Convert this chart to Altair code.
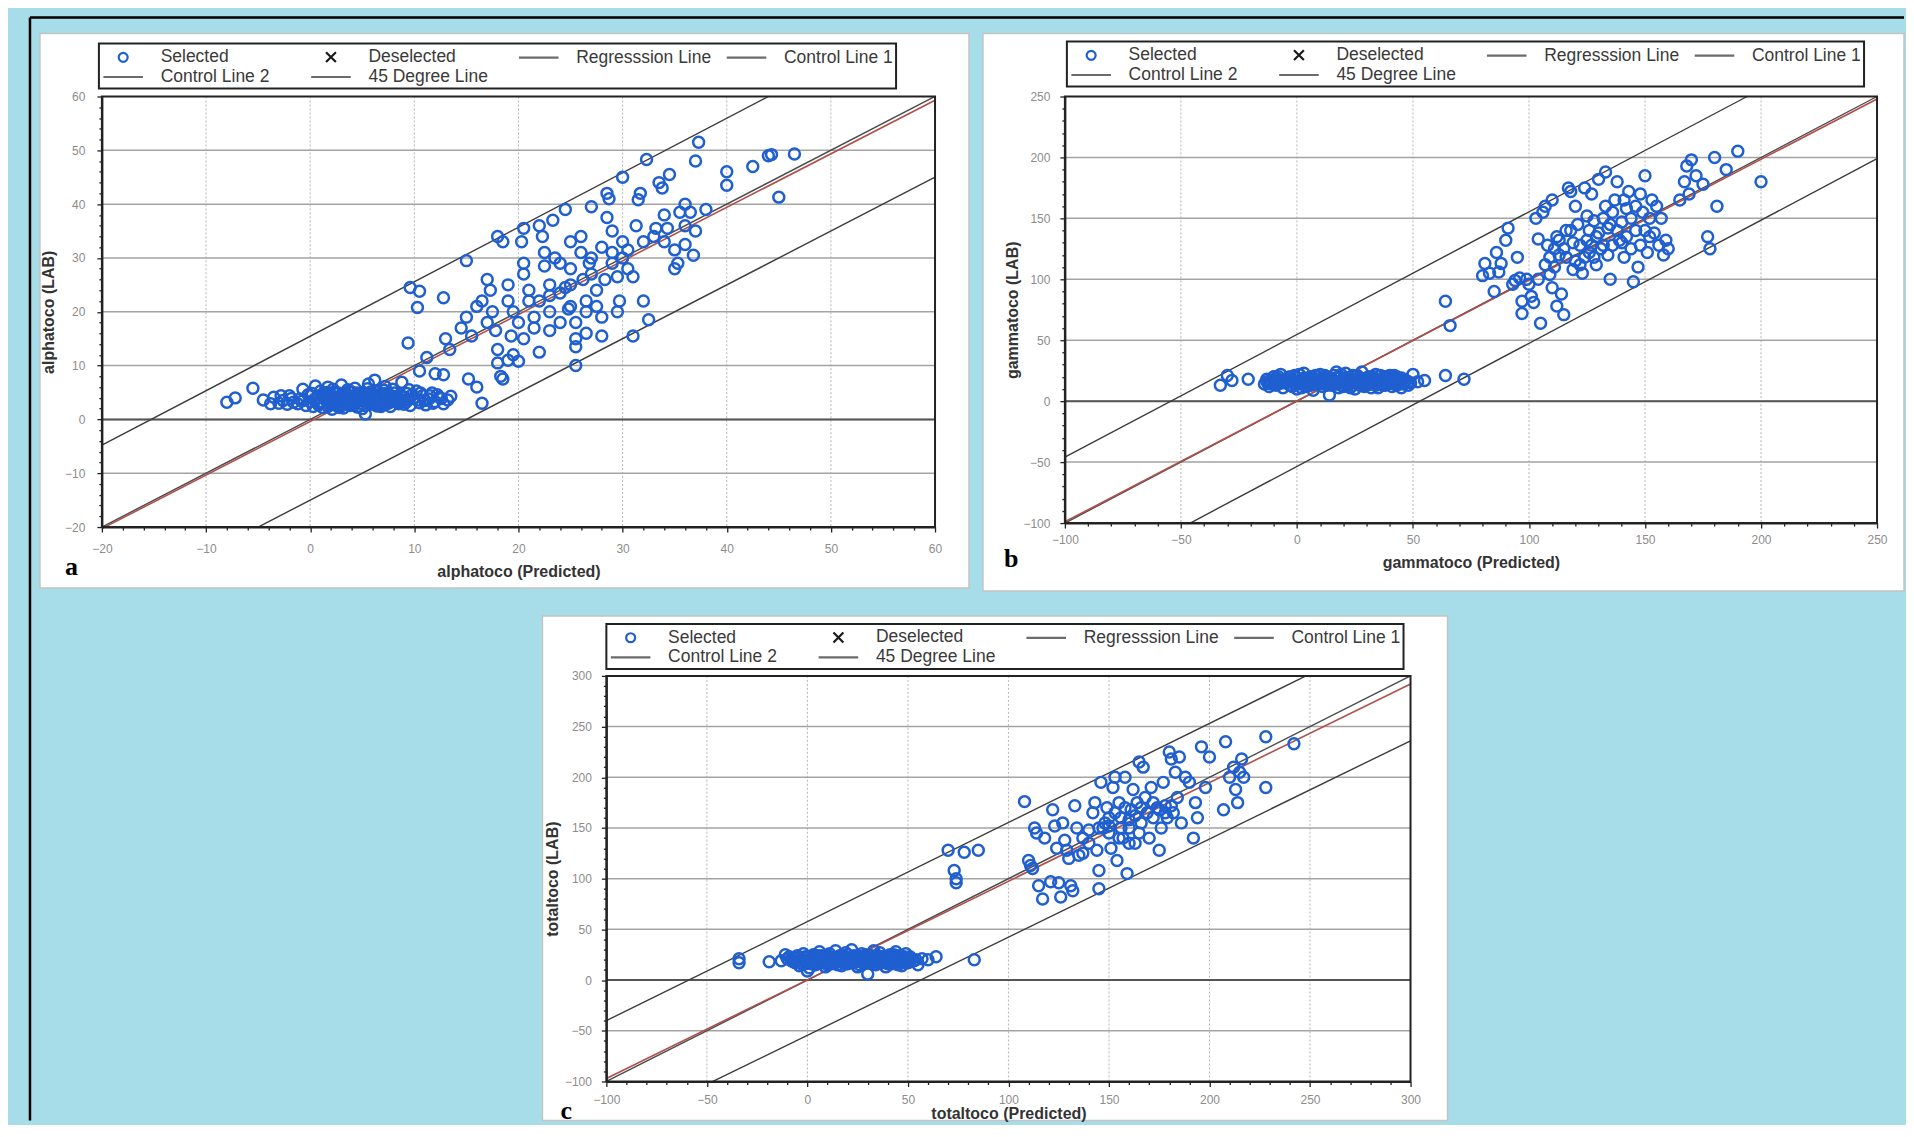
import altair as alt
import pandas as pd

# ---------------- legend categories ----------------
SERIES = ["Selected", "Deselected", "Regresssion Line", "Control Line 1", "Control Line 2", "45 Degree Line"]
SERIES_COLORS = ["#1f5fd0", "#1a1a1a", "#6b6b6b", "#6b6b6b", "#6b6b6b", "#6b6b6b"]
SYM_CIRCLE = "M0.5,0A0.5,0.5,0,1,1,-0.5,0A0.5,0.5,0,1,1,0.5,0Z"
SYM_X = "M-0.55,-0.55L0.55,0.55M-0.55,0.55L0.55,-0.55"
SYM_LINE = "M-2.2,0L2.2,0"

# ---------------- panel a : alphatoco ----------------
a_low = [(-8.0,3.2),(-7.2,4.0),(-5.5,5.8),(-4.5,3.6),(-3.8,2.9),(-3.5,4.1),(-3.0,3.0),(-2.6,3.5),(-2.2,2.8),(-2.0,4.4),
         (-1.6,3.2),(-1.2,2.9),(-1.0,3.8),(-0.7,5.6),(-0.4,2.6),(-0.2,4.6),(0.0,3.3),(0.3,2.4),(0.5,6.2),(0.6,4.0),
         (0.9,3.1),(1.0,5.3),(1.2,2.2),(1.4,4.7),(1.5,3.6),(1.7,6.0),(1.8,2.8),(2.0,4.2),(2.1,1.9),(2.3,5.1),
         (2.4,3.4),(2.6,2.5),(2.7,4.9),(2.9,3.8),(3.0,6.4),(3.2,2.1),(3.3,4.4),(3.5,3.0),(3.6,5.5),(3.8,2.6),
         (4.0,4.0),(4.1,3.2),(4.3,5.8),(4.5,2.3),(4.6,4.6),(4.8,3.5),(5.0,2.0),(5.1,5.0),(5.3,1.0),(5.4,3.9),
         (5.6,6.6),(5.8,2.8),(5.9,4.3),(6.1,3.4),(6.2,7.3),(6.4,2.5),(6.5,5.2),(6.7,3.7),(6.9,4.8),(7.0,2.7),
         (7.2,6.1),(7.4,3.3),(7.5,4.5),(7.7,2.4),(7.9,5.6),(8.0,3.6),(8.3,4.2),(8.5,2.9),(8.8,6.9),(9.0,3.5),
         (9.3,4.8),(9.6,2.6),(9.9,3.9),(10.2,5.3),(10.5,3.1),(10.8,4.4),(11.1,2.7),(11.4,3.8),(11.7,4.9),(12.0,3.3),
         (12.4,4.1),(12.8,2.9),(13.2,3.6),(13.5,4.3),(1.1,4.5),(2.2,3.0),(3.1,3.6),(4.2,2.7),(5.2,4.8),(6.0,3.0),
         (6.8,4.1),(7.6,3.9),(8.4,3.2),(0.4,3.7),(1.6,5.0),(2.8,2.2),(3.9,5.2),(4.9,4.1),(5.7,3.2),(6.3,4.5),
         (7.1,5.4),(2.5,4.0),(3.4,4.9),(4.4,3.4),(5.5,5.7),(6.6,3.9),(7.3,2.9),(8.1,4.9),(9.1,4.1),(9.8,4.6),
         (0.2,4.8),(0.8,2.7),(1.3,3.9),(1.9,4.8),(2.2,5.6),(2.5,2.9),(2.9,4.4),(3.3,3.2),(3.7,4.2),(4.0,5.0),
         (4.2,2.9),(4.7,3.9),(5.0,4.5),(5.2,2.6),(5.5,3.4),(5.8,5.1),(6.0,4.0),(6.3,2.9),(6.6,4.6),(6.9,3.4),
         (7.2,4.2),(7.5,3.0),(7.8,4.4),(8.2,3.8),(8.6,4.6),(9.0,2.8),(9.4,3.6),(10.0,4.0),(10.6,4.9),(11.0,3.5),
         (11.8,3.0),(12.2,4.6),(1.0,3.3),(1.7,2.4),(2.3,3.7),(3.5,3.9),(4.5,4.9),(5.4,4.4),(6.2,3.6),(7.0,3.7),
         (7.8,3.3),(8.9,4.2),(0.0,4.4),(-0.8,3.4),(-1.8,3.9),(-2.8,4.4),(3.0,2.6),(4.6,2.4),(6.8,2.4),(8.6,3.4),
         (9.5,5.5),(10.4,3.6),(11.5,4.4),(12.6,3.9),(1.4,4.1),(3.8,3.5),(5.9,3.8),(7.4,4.9),(9.2,3.2),(2.0,3.4)]
a_high = [(9.4,14.2),(9.6,24.5),(10.3,20.8),(10.5,23.8),(10.5,9.0),(11.2,11.5),(12.0,8.5),(12.8,8.3),(12.8,22.6),(13.0,15.0),
          (13.4,13.0),(14.5,17.0),(15.0,29.5),(15.0,19.0),(15.2,7.5),(15.5,15.5),(16.0,21.0),(16.0,6.0),(16.5,3.0),(16.5,22.0),
          (17.0,26.0),(17.0,18.0),(17.3,24.0),(17.5,20.0),(18.0,13.0),(18.0,10.5),(18.3,8.0),(18.5,7.5),(18.0,34.0),(18.5,33.0),
          (19.0,25.0),(19.0,22.0),(19.5,20.0),(19.3,15.5),(19.5,12.0),(19.0,11.0),(20.0,18.0),(20.0,10.8),(20.5,35.5),(20.3,33.0),
          (20.5,29.0),(20.5,27.0),(21.0,24.0),(21.0,22.0),(21.5,19.0),(21.5,17.0),(22.0,12.5),(22.0,36.0),(22.3,34.0),(22.5,31.0),
          (22.5,28.5),(23.0,25.0),(23.0,23.0),(23.0,20.0),(23.0,16.5),(23.3,37.0),(23.5,30.0),(24.0,29.0),(24.0,23.5),(24.0,18.0),
          (24.5,39.0),(25.0,33.0),(25.0,28.0),(25.0,25.0),(25.0,21.0),(25.5,18.0),(25.5,15.0),(25.5,13.5),(25.5,10.0),(26.0,34.0),
          (26.0,31.0),(26.2,26.0),(26.5,22.0),(26.5,20.0),(26.5,16.0),(27.0,39.5),(27.0,30.0),(27.0,27.0),(27.5,24.0),(27.5,21.0),
          (28.0,32.0),(28.0,19.0),(28.0,15.5),(28.5,42.0),(28.7,41.0),(28.5,37.5),(29.0,35.0),(29.0,31.0),(29.0,29.0),(29.5,26.5),
          (29.5,20.0),(29.7,22.0),(30.0,45.0),(30.0,33.0),(30.0,30.0),(30.5,28.0),(31.0,26.5),(31.0,15.5),(31.3,36.0),(31.5,40.8),
          (31.7,42.0),(32.0,33.0),(32.0,22.0),(32.5,18.5),(32.3,48.3),(33.0,34.0),(33.2,35.5),(33.5,44.0),(33.8,43.0),(34.0,33.0),
          (34.0,38.0),(34.3,35.5),(34.5,45.5),(35.0,31.5),(35.0,28.0),(35.3,29.0),(35.5,38.5),(36.0,36.0),(36.0,32.5),(36.0,40.0),
          (36.5,38.5),(36.8,30.5),(37.0,35.0),(37.3,51.5),(37.0,48.0),(38.0,39.0),(40.0,46.0),(40.0,43.5),(42.5,47.0),(44.0,49.0),
          (44.3,49.2),(45.0,41.3),(46.5,49.3),(24.5,24.5),(26.8,29.0),(28.3,26.0),(30.5,31.5),(22.0,22.0),(20.5,15.0),(17.8,16.5),
          (24.8,20.5)]
a_lines = {
    "Control Line 1": ([-20, 44], [-4.8, 60]),
    "Control Line 2": ([-5, 60], [-20, 45]),
    "45 Degree Line": ([-20, 60], [-20, 60]),
    "Regresssion Line": ([-20, 60], [-20.3, 59.3]),
}

# ---------------- panel b : gammatoco ----------------
b_low = [(-33,13),(-30,21),(-28,17),(-21,18),(-14,14),(-13,18),(-12,12),(-11,16),(-10,20),(-9,13),(-8,17),(-7,22),(-6,11),
         (-5,15),(-4,19),(-3,13),(-2,17),(-1,21),(0,10),(1,14),(2,18),(3,23),(4,12),(5,16),(6,20),(7,9),(8,14),(9,18),
         (10,22),(11,12),(12,16),(13,20),(14,5),(15,13),(16,17),(17,24),(18,11),(19,15),(20,19),(21,23),(22,13),(23,17),
         (24,21),(25,10),(26,15),(27,19),(28,24),(29,12),(30,16),(31,20),(32,14),(33,18),(34,22),(35,11),(36,15),(37,19),
         (38,13),(39,17),(40,21),(41,12),(42,16),(43,20),(44,14),(45,11),(47,17),(48,13),(50,22),(52,16),(55,17),(64,21),
         (72,18),(-12,15),(-9,19),(-6,16),(-3,20),(0,16),(3,15),(6,13),(9,16),(12,19),(15,18),(18,20),(21,14),(24,16),
         (27,13),(30,19),(33,15),(36,21),(39,14),(42,19),(45,16),(2,11),(8,21),(14,16),(20,12),(26,21),(32,11),(38,20),
         (44,18),(5,19),(11,17),(17,14),(23,11),(29,18),(35,17),(41,15),(-8,14),(-2,12),(4,17),(10,14),(16,21),(22,17),
         (28,15),(34,13),(40,18),(46,14),(1,22),(7,17),(13,13),(19,22),(25,18),(31,14),(37,16),(43,13),(49,15),
         (-11,14),(-7,15),(-4,16),(-1,14),(1,17),(3,19),(5,13),(7,15),(9,20),(11,15),(13,17),(15,15),(17,19),(19,13),
         (21,17),(23,15),(25,20),(27,16),(29,14),(31,17),(33,20),(35,14),(37,13),(39,19),(41,18),(43,16),(45,19),(-10,17),
         (-5,18),(0,19),(4,14),(6,17),(8,16),(10,18),(12,14),(14,19),(16,15),(18,16),(20,15),(22,19),(24,13),(26,17),
         (28,18),(30,13),(32,17),(34,16),(36,18),(38,16),(40,15),(42,14),(44,16),(46,18),(-13,16),(-8,20),(2,15),(12,21),
         (22,15),(32,19),(42,21),(48,16)]
b_high = [(64,82),(66,62),(80,103),(81,113),(83,105),(85,90),(86,122),(87,106),(88,113),(90,132),(91,142),(93,96),(94,99),
          (95,118),(96,101),(97,72),(97,82),(99,100),(101,86),(102,81),(103,150),(104,133),(105,64),(106,155),(107,160),
          (108,128),(109,104),(110,165),(110,93),(111,110),(112,78),(113,120),(114,88),(115,71),(116,140),(117,175),
          (118,172),(119,130),(120,160),(120,115),(121,145),(122,112),(123,105),(124,175),(125,132),(126,140),(127,170),
          (128,118),(129,135),(130,182),(131,125),(132,150),(133,188),(134,142),(135,100),(136,128),(137,165),(138,180),
          (139,132),(140,147),(141,118),(142,158),(143,172),(144,125),(145,98),(146,140),(147,110),(148,170),(149,155),
          (150,185),(151,122),(152,150),(153,165),(154,138),(155,160),(156,128),(157,150),(158,120),(159,132),(160,125),
          (165,165),(167,180),(168,193),(169,170),(170,198),(172,185),(177,135),(178,125),(180,200),(181,160),(185,190),
          (190,205),(200,180),(175,178),(148,128),(125,152),(115,125),(112,135),(133,160),(118,140),(122,128),(126,122),
          (128,148),(130,138),(132,128),(135,145),(138,140),(140,130),(142,135),(144,150),(146,160),(150,140),(152,135),
          (116,118),(119,108),(124,118),(127,128),(129,112),(134,120),(136,155),(141,165),(113,132),(111,125),(109,118),
          (107,112),(104,100),(100,96)]
b_lines = {
    "Control Line 1": ([-100, 194], [-46, 250]),
    "Control Line 2": ([-46, 250], [-100, 199]),
    "45 Degree Line": ([-100, 250], [-100, 250]),
    "Regresssion Line": ([-100, 250], [-99, 248]),
}

# ---------------- panel c : totaltoco ----------------
c_low = [(-34,17),(-34,21),(-19,18),(-11,25),(-8,21),(-6,17),(-5,24),(-4,14),(-3,20),(-2,26),(-1,16),(0,22),(1,12),
         (2,19),(3,25),(4,15),(5,21),(6,28),(7,17),(8,23),(9,13),(10,19),(11,26),(12,16),(13,22),(14,29),(15,18),(16,24),
         (17,14),(18,20),(19,27),(20,16),(21,22),(22,30),(23,17),(24,23),(25,13),(26,19),(27,26),(28,16),(29,22),(30,6),
         (31,18),(32,24),(33,29),(34,15),(35,21),(36,27),(37,17),(38,23),(39,13),(40,19),(41,25),(42,16),(43,22),(44,28),
         (45,18),(46,24),(47,14),(48,20),(49,26),(50,17),(51,23),(53,19),(55,15),(57,21),(60,20),(64,23),(83,20),
         (-7,18),(-1,23),(4,20),(7,24),(10,15),(13,18),(16,20),(19,16),(22,21),(25,24),(28,19),(31,22),(34,19),(37,23),
         (40,16),(43,19),(46,21),(49,17),(2,16),(8,19),(14,22),(20,25),(26,15),(32,20),(38,18),(44,24),(50,21),(5,17),
         (11,21),(17,23),(23,20),(29,18),(35,24),(41,20),(47,17),(-3,16),(3,23),(9,21),(15,15),(21,19),(27,21),(33,22),
         (39,20),(45,15),(52,21),(-9,23),(-13,19),(0,9),
         (-10,21),(-6,22),(-2,19),(1,20),(3,18),(5,24),(7,20),(9,17),(11,23),(13,20),(15,21),(17,18),(19,22),(21,17),
         (23,24),(25,19),(27,18),(29,25),(31,20),(33,17),(35,19),(37,21),(39,17),(41,22),(43,25),(45,21),(47,23),(49,20),
         (51,18),(-4,22),(0,18),(4,24),(6,19),(8,21),(10,24),(12,19),(14,17),(16,22),(18,24),(20,19),(22,18),(24,20),
         (26,23),(28,21),(30,24),(32,17),(34,23),(36,20),(38,21),(40,23),(42,19),(44,20),(46,19),(48,23),(50,19),(-8,19),
         (2,22),(18,17),(36,17),(54,20)]
c_high = [(70,128),(73,108),(74,96),(74,100),(78,126),(85,128),(108,176),(110,118),(111,113),(112,110),(113,150),(114,145),
          (115,93),(117,80),(118,140),(121,97),(122,168),(123,152),(124,130),(125,96),(126,82),(127,155),(128,138),
          (129,128),(131,93),(132,88),(133,172),(134,150),(135,123),(137,140),(140,135),(142,165),(143,175),(144,128),
          (145,90),(145,108),(146,195),(147,150),(148,155),(149,170),(150,145),(151,130),(152,190),(153,200),(154,118),
          (155,175),(156,160),(157,140),(158,200),(159,105),(160,150),(161,168),(162,188),(163,135),(164,175),(165,215),
          (166,155),(167,210),(168,180),(170,140),(171,190),(172,160),(174,170),(175,128),(176,150),(177,195),(178,172),
          (179,160),(180,225),(181,218),(182,165),(183,205),(184,180),(185,220),(186,155),(188,200),(190,195),(192,140),
          (193,175),(194,160),(196,230),(198,190),(200,220),(207,168),(208,235),(210,200),(212,210),(213,188),(214,175),
          (215,205),(216,218),(217,200),(228,240),(228,190),(242,233),(150,160),(153,165),(156,150),(158,170),(160,158),
          (163,162),(166,170),(169,165),(172,175),(175,168),(178,165),(181,172),(155,140),(160,135),(165,145),(150,152),
          (145,150),(140,148),(137,125),(130,120)]
c_lines = {
    "Control Line 1": ([-100, 248], [-40, 300]),
    "Control Line 2": ([-47, 300], [-100, 236]),
    "45 Degree Line": ([-100, 300], [-100, 300]),
    "Regresssion Line": ([-100, 300], [-97, 292]),
}

# ---------------- helpers ----------------
ONE = pd.DataFrame({"k": [0]})
FONT = "Liberation Sans"


def make_axis(dom, minor, major, title, lp, tp):
    cond = f"datum.value % {major} === 0"
    return alt.Axis(
        values=list(range(dom[0], dom[1] + 1, minor)),
        labelExpr=f"{cond} ? datum.label : ''",
        grid=False, domainColor="#222222", domainWidth=2,
        tickColor="#222222", tickWidth=1.3,
        tickSize={"condition": {"test": cond, "value": 5}, "value": 3},
        labelFont=FONT, labelFontSize=12, labelColor="#8c8c8c", labelPadding=lp,
        labelOverlap=False, labelFlush=False,
        title=title, titleFont=FONT, titleFontSize=16, titleFontWeight="bold",
        titleColor="#333333", titlePadding=tp, zindex=1,
    )


def panel(cfg):
    W, H = cfg["W"], cfg["H"]
    xs = alt.Scale(domain=cfg["dom"], nice=False, zero=False)
    ys = alt.Scale(domain=cfg["dom"], nice=False, zero=False)
    xax = make_axis(cfg["dom"], cfg["minor"], cfg["major"], cfg["xtitle"], cfg["xlp"], cfg["xtp"])
    yax = make_axis(cfg["dom"], cfg["minor"], cfg["major"], cfg["ytitle"], cfg["ylp"], cfg["ytp"])

    def X(f):
        return alt.X(f, type="quantitative", scale=xs, axis=xax)

    def Y(f):
        return alt.Y(f, type="quantitative", scale=ys, axis=yax)

    layers = list(cfg.get("pre", []))
    wx, wy, wx2, wy2 = cfg["white"]
    layers.append(alt.Chart(ONE).mark_rect(fill="white", stroke="#c4c4c4", strokeWidth=1.5).encode(
        x=alt.value(wx), x2=alt.value(wx2), y=alt.value(wy), y2=alt.value(wy2)))

    grid = [v for v in range(cfg["dom"][0], cfg["dom"][1] + 1, cfg["major"]) if cfg["dom"][0] < v < cfg["dom"][1]]
    gdf = pd.DataFrame({"v": grid})
    layers.append(alt.Chart(gdf).mark_rule(color="#b5b5b5", strokeDash=[2, 2], strokeWidth=1).encode(x=X("v")))
    layers.append(alt.Chart(gdf).mark_rule(color="#a3a3a3", strokeWidth=1.5).encode(y=Y("v")))
    layers.append(alt.Chart(pd.DataFrame({"v": [0]})).mark_rule(color="#555555", strokeWidth=2).encode(y=Y("v")))

    rows = []
    for name, (lx, ly) in cfg["lines"].items():
        for xv, yv in zip(lx, ly):
            rows.append({"series": name, "x": xv, "y": yv})
    ldf = pd.DataFrame(rows)
    ctrl = ldf[ldf.series.str.startswith("Control")]
    layers.append(alt.Chart(ctrl).mark_line(color="#3c3c3c", strokeWidth=1.4).encode(
        x=X("x"), y=Y("y"), detail="series:N"))
    layers.append(alt.Chart(ldf[ldf.series == "45 Degree Line"]).mark_line(color="#4a4a4a", strokeWidth=1.4).encode(
        x=X("x"), y=Y("y")))
    layers.append(alt.Chart(ldf[ldf.series == "Regresssion Line"]).mark_line(color="#b0504b", strokeWidth=1.6).encode(
        x=X("x"), y=Y("y")))

    pts = pd.DataFrame(cfg["low"] + cfg["high"], columns=["x", "y"])
    pts["series"] = "Selected"
    lgx, lgy = cfg["legend"]
    leg = alt.Legend(title=None, orient="none", legendX=lgx, legendY=lgy, columns=4, direction="horizontal",
                     gridAlign="all", symbolSize=324, symbolOffset=10.8, labelOffset=27, columnPadding=10,
                     rowPadding=0, padding=3, strokeColor="#222222", fillColor="white",
                     labelFont=FONT, labelFontSize=17.5, labelColor="#3a3a3a", labelLimit=400,
                     symbolStrokeWidth=2.2)
    layers.append(alt.Chart(pts).mark_point(filled=False, size=480, strokeWidth=2.5, opacity=1).encode(
        x=X("x"), y=Y("y"),
        color=alt.Color("series:N", scale=alt.Scale(domain=SERIES, range=SERIES_COLORS), legend=leg),
        shape=alt.Shape("series:N", scale=alt.Scale(domain=SERIES, range=[SYM_CIRCLE, SYM_X, SYM_LINE, SYM_LINE, SYM_LINE, SYM_LINE]), legend=leg),
    ))

    layers.append(alt.Chart(ONE).mark_rect(fillOpacity=0, stroke="#222222", strokeWidth=2).encode(
        x=alt.value(0), x2=alt.value(W), y=alt.value(0), y2=alt.value(H)))

    letter, tx, ty = cfg["letter"]
    layers.append(alt.Chart(ONE).mark_text(text=letter, font="Liberation Serif", fontWeight="bold", fontSize=26,
                                           align="left", baseline="alphabetic", color="black").encode(
        x=alt.value(tx), y=alt.value(ty)))

    return alt.layer(*layers).properties(width=W, height=H)


BLUE = "#a6dde9"
page_bg = [
    alt.Chart(ONE).mark_rect(fill=BLUE).encode(x=alt.value(-94), x2=alt.value(1804), y=alt.value(-88), y2=alt.value(1025)),
    alt.Chart(ONE).mark_rule(color="black", strokeWidth=2.5).encode(x=alt.value(-72), x2=alt.value(1804), y=alt.value(-79)),
    alt.Chart(ONE).mark_rule(color="black", strokeWidth=2.5).encode(x=alt.value(-72), y=alt.value(-79), y2=alt.value(1025)),
]

A = panel(dict(W=834, H=431, dom=[-20, 60], minor=2, major=10,
               xtitle="alphatoco (Predicted)", ytitle="alphatoco (LAB)",
               xlp=11, xtp=10, ylp=12, ytp=8,
               white=(-62, -63, 868, 492), legend=(-3, -53), letter=("a", -37, 479),
               low=a_low, high=a_high, lines=a_lines, pre=page_bg))
B = panel(dict(W=813, H=427, dom=[-100, 250], minor=10, major=50,
               xtitle="gammatoco (Predicted)", ytitle="gammatoco (LAB)",
               xlp=6, xtp=10, ylp=10, ytp=2,
               white=(-82, -63, 840, 495), legend=(2, -55), letter=("b", -61, 471),
               low=b_low, high=b_high, lines=b_lines))
C = panel(dict(W=805, H=406, dom=[-100, 300], minor=10, major=50,
               xtitle="totaltoco (Predicted)", ytitle="totaltoco (LAB)",
               xlp=8, xtp=0, ylp=10, ytp=4,
               white=(-64, -60, 842, 445), legend=(0, -52), letter=("c", -46, 444),
               low=c_low, high=c_high, lines=c_lines))

spacer = alt.Chart(ONE).mark_point(opacity=0).encode(x=alt.value(0), y=alt.value(0)).properties(width=505, height=10)


def indep(ch):
    return ch.resolve_scale(color="independent", shape="independent").resolve_legend(color="independent", shape="independent")


row1 = indep(alt.hconcat(A, B, spacing=130, bounds="flush"))
row2 = indep(alt.hconcat(spacer, C, spacing=0, bounds="flush"))
# nested rows count as zero height in a flush layout, so the gap includes row 1's plot height (431)
chart = indep(alt.vconcat(row1, row2, spacing=580, bounds="flush")).properties(
    padding=0, background=BLUE
).configure_view(strokeWidth=0).configure_legend(strokeWidth=2)

chart.save("out.html", embed_options={"renderer": "svg", "actions": False})
